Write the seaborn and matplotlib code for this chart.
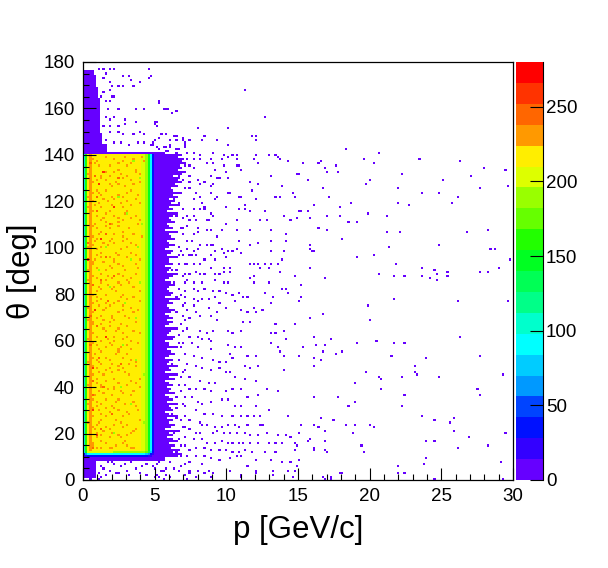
import numpy as np
import matplotlib
matplotlib.use("Agg")
import matplotlib.pyplot as plt
from matplotlib.colors import ListedColormap
from matplotlib.ticker import MultipleLocator
import seaborn as sns

plt.rcParams["font.family"] = ["Liberation Sans", "DejaVu Sans"]

# histogram binning: 200 x 200 bins
p_nbins, p_max = 200, 30.0
th_nbins, th_max = 200, 180.0

# 20 colour contours between 0 and 280 counts
z_max = 280
palette = ["#6600ff", "#3300ff", "#0011ff", "#0044ff", "#0099ff",
           "#00ccff", "#00ffff", "#00ffcc", "#00ff88", "#00ff55",
           "#00ff22", "#22ff00", "#66ff00", "#99ff00", "#ddff00",
           "#ffee00", "#ff9900", "#ff6600", "#ff3300", "#ff0000"]
cbar_ticks = [0, 50, 100, 150, 200, 250]
p_ticks = [0, 5, 10, 15, 20, 25, 30]
th_ticks = [0, 20, 40, 60, 80, 100, 120, 140, 160, 180]

# --- the filled acceptance box (p < 4.95, 10 < theta < 140) ---
# counts per p-bin across the box
box_col_counts = [95, 160, 223, 224, 223, 222, 222, 221, 220, 220, 219, 219,
                  218, 218, 217, 217, 216, 216, 215, 215, 214, 214, 214, 213,
                  213, 212, 212, 209, 205, 188, 145, 90, 35]
box_theta_lo, box_theta_hi = 10.0, 140.4
box_edge_theta = [10.0, 10.9, 11.8]
box_edge_scale = [0.17, 0.42, 0.9]

# orange speckles (p, theta)
orange_cells = [
    (0.6, 138), (2.2, 138), (3.5, 138), (1.1, 135), (1.8, 135), (3.0, 135),
    (0.4, 132), (2.6, 132), (4.0, 132), (0.9, 129), (1.5, 129), (3.3, 129),
    (0.5, 126), (2.0, 126), (2.9, 126), (1.3, 123), (2.4, 123), (3.8, 123),
    (0.7, 120), (1.7, 120), (3.1, 120), (0.4, 117), (1.2, 117), (2.7, 117),
    (0.9, 114), (2.1, 114), (3.6, 114), (0.5, 111), (1.6, 111), (2.5, 111),
    (1.0, 108), (1.9, 108), (3.2, 108), (0.6, 105), (2.8, 105), (4.1, 105),
    (1.4, 102), (2.2, 102), (3.4, 102), (0.5, 99), (0.9, 99), (2.6, 99),
    (1.2, 96), (1.8, 96), (3.0, 96), (0.7, 93), (2.4, 93), (3.7, 93),
    (0.4, 90), (1.5, 90), (2.9, 90), (1.0, 87), (2.0, 87), (3.3, 87),
    (0.6, 84), (1.7, 84), (2.6, 84), (0.9, 81), (2.3, 81), (3.9, 81),
    (0.5, 78), (1.3, 78), (3.0, 78), (1.1, 75), (1.9, 75), (2.7, 75),
    (0.7, 72), (2.5, 72), (3.5, 72), (0.4, 69), (1.4, 69), (2.2, 69),
    (1.0, 66), (1.8, 66), (3.1, 66), (0.6, 63), (2.7, 63), (4.0, 63),
    (1.2, 60), (2.1, 60), (3.4, 60), (0.5, 57), (1.6, 57), (2.6, 57),
    (0.8, 54), (2.3, 54), (3.0, 54), (0.4, 51), (1.1, 51), (3.7, 51),
    (0.9, 48), (1.9, 48), (2.8, 48), (0.6, 45), (1.4, 45), (3.2, 45),
    (1.0, 42), (2.5, 42), (3.6, 42), (0.5, 39), (1.7, 39), (2.2, 39),
    (0.8, 36), (2.0, 36), (3.3, 36), (0.4, 33), (1.3, 33), (2.9, 33),
    (1.1, 30), (2.4, 30), (3.8, 30), (0.6, 27), (1.6, 27), (2.7, 27),
    (0.9, 24), (2.1, 24), (3.1, 24), (0.5, 21), (1.4, 21), (3.5, 21),
    (1.0, 18), (1.9, 18), (2.6, 18), (0.7, 15), (2.3, 15), (3.0, 15),
    (0.9, 137), (2.8, 137), (4.2, 137), (0.5, 134), (2.4, 134), (3.6, 134),
    (1.3, 131), (1.9, 131), (3.0, 131), (0.7, 128), (2.3, 128), (3.9, 128),
    (1.0, 125), (1.6, 125), (3.4, 125), (0.4, 122), (2.0, 122), (2.8, 122),
    (1.1, 119), (2.6, 119), (4.0, 119), (0.6, 116), (1.8, 116), (3.1, 116),
    (1.4, 113), (2.4, 113), (3.4, 113), (0.8, 110), (2.0, 110), (3.8, 110),
    (0.5, 107), (1.3, 107), (2.7, 107), (1.0, 104), (2.0, 104), (3.0, 104),
    (0.6, 101), (1.7, 101), (3.7, 101), (1.3, 98), (2.3, 98), (3.3, 98),
    (0.8, 95), (2.1, 95), (4.0, 95), (0.5, 92), (1.8, 92), (2.8, 92),
    (1.2, 89), (2.5, 89), (3.6, 89), (0.4, 86), (1.5, 86), (3.0, 86),
    (1.1, 83), (2.1, 83), (3.5, 83), (0.6, 80), (1.6, 80), (2.8, 80),
    (1.0, 77), (2.4, 77), (3.9, 77), (0.4, 74), (1.5, 74), (3.3, 74),
    (1.2, 71), (2.0, 71), (2.9, 71), (0.7, 68), (1.8, 68), (3.7, 68),
    (0.5, 65), (1.4, 65), (2.5, 65), (1.0, 62), (2.2, 62), (3.0, 62),
    (0.7, 59), (1.9, 59), (3.8, 59), (1.1, 56), (2.5, 56), (3.4, 56),
    (0.6, 53), (1.5, 53), (2.8, 53), (1.3, 50), (2.0, 50), (3.2, 50),
    (0.5, 47), (1.6, 47), (2.4, 47), (0.9, 44), (2.2, 44), (3.9, 44),
    (0.4, 41), (1.3, 41), (3.0, 41), (1.1, 38), (2.6, 38), (3.5, 38),
    (0.6, 35), (1.5, 35), (2.5, 35), (1.0, 32), (2.0, 32), (3.6, 32),
    (0.5, 29), (1.8, 29), (3.0, 29), (1.2, 26), (2.3, 26), (4.0, 26),
    (0.7, 23), (1.6, 23), (2.8, 23), (1.0, 20), (2.0, 20), (3.3, 20),
    (0.5, 17), (1.3, 17), (2.9, 17), (1.2, 14), (1.8, 14), (3.5, 14),
    (1.5, 139), (2.9, 139), (4.1, 139), (0.8, 136), (2.4, 136), (3.3, 136),
    (1.6, 133), (2.2, 133), (3.7, 133), (0.5, 130), (1.2, 130), (2.7, 130),
    (1.8, 127), (2.5, 127), (3.5, 127), (0.7, 124), (1.1, 124), (3.0, 124),
    (1.4, 121), (2.2, 121), (3.7, 121), (0.8, 118), (2.0, 118), (3.3, 118),
    (0.5, 115), (1.6, 115), (2.9, 115), (1.2, 112), (2.7, 112), (4.0, 112),
    (0.6, 109), (1.5, 109), (2.4, 109), (1.1, 106), (2.1, 106), (3.5, 106),
    (0.8, 103), (1.9, 103), (2.7, 103), (0.4, 100), (1.3, 100), (3.1, 100),
    (1.0, 97), (2.5, 97), (3.6, 97), (0.6, 94), (1.4, 94), (2.2, 94),
    (1.0, 91), (2.0, 91), (3.8, 91), (0.7, 88), (1.7, 88), (2.7, 88),
    (1.3, 85), (2.4, 85), (3.2, 85), (0.5, 82), (1.2, 82), (2.0, 82),
    (0.9, 79), (2.6, 79), (3.5, 79), (0.6, 76), (1.6, 76), (2.2, 76),
    (1.4, 73), (2.8, 73), (3.8, 73), (0.9, 70), (2.0, 70), (3.2, 70),
    (0.6, 67), (1.3, 67), (2.6, 67), (1.5, 64), (2.3, 64), (3.5, 64),
    (0.4, 61), (1.7, 61), (2.8, 61), (1.0, 58), (2.0, 58), (3.1, 58),
    (0.5, 55), (1.3, 55), (2.4, 55), (1.0, 52), (1.8, 52), (3.4, 52),
    (0.7, 49), (2.4, 49), (3.7, 49), (1.1, 46), (2.0, 46), (2.9, 46),
    (0.6, 43), (1.6, 43), (3.3, 43), (1.2, 40), (2.2, 40), (3.9, 40),
    (0.5, 37), (1.4, 37), (2.8, 37), (1.0, 34), (2.3, 34), (3.5, 34),
    (0.7, 31), (1.5, 31), (2.2, 31), (1.3, 28), (2.0, 28), (3.2, 28),
    (0.4, 25), (1.1, 25), (2.6, 25), (0.8, 22), (1.9, 22), (3.7, 22),
    (1.2, 19), (2.4, 19), (3.0, 19), (0.6, 16), (1.5, 16), (2.7, 16),
    (1.0, 13.5), (2.0, 13.5), (3.3, 13.5)]
deep_orange_cells = [
    (0.5, 136), (0.9, 116), (1.5, 96), (0.6, 84), (0.5, 58), (0.6, 36),
    (1.3, 22), (2.5, 130), (1.0, 66), (1.8, 110), (0.7, 14), (2.2, 88),
    (1.4, 40), (0.9, 122), (1.7, 77), (0.4, 102), (1.1, 53), (2.6, 50),
    (0.8, 131), (1.6, 106), (0.5, 71), (2.0, 28), (1.2, 86), (0.7, 43)]
red_cells = [(1.1, 127), (0.8, 73), (0.7, 48), (1.2, 104), (0.4, 95),
             (1.5, 62), (0.6, 30), (2.1, 117), (0.9, 19), (1.4, 133)]
green_cells = [(3.9, 130), (2.5, 122), (4.1, 110), (3.3, 95), (1.9, 83),
               (3.6, 70), (2.8, 58), (4.2, 45), (3.4, 33), (2.2, 20),
               (4.0, 85), (3.0, 115), (1.5, 100), (3.7, 52), (2.6, 40),
               (4.3, 25), (3.5, 137), (1.1, 90), (2.9, 76), (3.8, 100)]

# --- low-count regions that are (almost) fully occupied: p0, p1, th0, th1 ---
solid_blocks = [
    (0.0, 5.7, 8.1, 9.9),
    (0.0, 1.0, 0.9, 8.1),
    (0.0, 5.8, 140.4, 141.5),
    (0.0, 1.7, 141.5, 145.0),
    (0.0, 1.4, 145.0, 150.0),
    (0.0, 1.3, 150.0, 155.0),
    (0.0, 1.2, 155.0, 160.0),
    (0.0, 1.25, 160.0, 165.0),
    (0.0, 1.1, 165.0, 170.0),
    (0.0, 1.0, 170.0, 175.0),
    (0.0, 0.8, 175.0, 176.6)]
# solid band right of the box: upper p edge for each theta bin from 10 deg
fringe_theta0 = 10.0
fringe_edge_p = [
    6.6, 6.9, 6.4, 6.8, 6.2, 6.5, 6.0, 6.7, 6.3, 5.9, 6.4, 6.1, 6.8, 5.8, 6.2,
    6.5, 6.0, 6.3, 5.9, 6.6, 6.1, 5.8, 6.4, 6.2, 6.0, 6.7, 5.9, 6.3, 6.1, 5.8,
    6.5, 6.0, 6.2, 5.9, 6.4, 6.1, 5.7, 6.3, 6.0, 6.6, 5.8, 6.2, 6.0, 6.5, 5.9,
    6.1, 6.3, 5.8, 6.0, 6.4, 6.2, 5.9, 6.7, 6.0, 6.1, 5.8, 6.3, 6.5, 5.9, 6.0,
    6.2, 6.6, 5.8, 6.1, 6.3, 5.9, 6.4, 6.0, 5.7, 6.2, 6.5, 6.1, 5.9, 6.3, 6.0,
    6.8, 5.8, 6.2, 6.4, 6.0, 5.9, 6.1, 6.5, 6.2, 5.8, 6.0, 6.3, 6.6, 5.9, 6.1,
    6.2, 5.8, 6.4, 6.0, 6.1, 6.7, 5.9, 6.2, 6.3, 5.8, 6.0, 6.5, 6.1, 5.9, 6.4,
    6.2, 6.0, 6.6, 5.8, 6.3, 6.1, 5.9, 6.5, 6.2, 6.0, 6.4, 6.7, 5.9, 6.3, 6.1,
    6.8, 6.2, 6.5, 6.0, 6.6, 6.3, 6.9, 6.4, 6.2, 6.7, 6.5, 7.0, 6.6, 6.8, 6.4,
    6.9, 7.2, 6.7, 7.0, 6.8, 7.3, 6.9, 7.1, 6.6, 7.0]

# --- single entries (p [GeV/c], theta [deg]) ---
hits_fringe = [
    (6.55, 138.6), (6.85, 136.2), (6.30, 133.9), (6.70, 131.1), (6.95, 128.8),
    (6.45, 126.4), (6.80, 124.0), (6.35, 121.3), (6.65, 118.9), (6.90, 116.1),
    (6.50, 113.7), (6.25, 111.2), (6.75, 108.8), (6.95, 106.1), (6.40, 103.5),
    (6.60, 100.6), (6.85, 98.3), (6.30, 95.8), (6.70, 93.2), (6.50, 90.4),
    (6.90, 87.9), (6.35, 85.1), (6.65, 82.7), (6.80, 80.0), (6.45, 77.4),
    (6.95, 74.9), (6.55, 72.3), (6.25, 69.6), (6.75, 67.2), (6.90, 64.5),
    (6.40, 61.8), (6.60, 59.3), (6.85, 56.9), (6.30, 54.2), (6.70, 51.5),
    (6.50, 48.9), (6.95, 46.4), (6.35, 43.7), (6.65, 41.0), (6.80, 38.5),
    (6.45, 35.9), (6.90, 33.3), (6.55, 30.6), (6.25, 28.1), (6.75, 25.4),
    (6.95, 22.8), (6.40, 20.2), (6.60, 17.6), (6.85, 15.0), (6.50, 12.4),
    (6.80, 10.6), (6.60, 134.8), (6.40, 119.8), (6.70, 97.1), (6.50, 79.1),
    (6.60, 62.6), (6.75, 44.6), (6.45, 26.5), (6.95, 112.5), (6.95, 70.5),
    (6.20, 90.0), (6.25, 50.0)]
hits_top_left = [
    (1.07, 177.0), (1.46, 177.0), (1.84, 176.6), (2.14, 177.0), (1.60, 175.1),
    (2.70, 174.4), (3.19, 174.4), (4.60, 176.6), (1.42, 173.0), (1.91, 171.5),
    (3.40, 172.2), (4.00, 171.2), (4.51, 173.0), (1.95, 169.4), (2.47, 169.4),
    (2.74, 169.8), (3.51, 169.4), (1.47, 167.2), (1.88, 167.9), (1.28, 165.1),
    (2.00, 165.1), (2.23, 165.1), (1.53, 162.9), (1.81, 163.2), (2.42, 160.0),
    (3.65, 160.0), (4.26, 159.8), (5.37, 162.9), (5.84, 160.0), (1.67, 160.0),
    (1.53, 156.4), (1.81, 155.0), (2.23, 156.4), (2.93, 155.7), (1.42, 152.1),
    (1.88, 152.9), (2.42, 152.9), (2.88, 153.6), (3.74, 154.3), (5.02, 154.3),
    (5.19, 152.9), (1.88, 150.0), (2.47, 150.0), (2.70, 148.5), (3.51, 149.3),
    (3.98, 150.0), (4.33, 148.5), (4.84, 145.4), (5.37, 147.1), (5.72, 148.5),
    (6.42, 147.8), (7.00, 146.4), (1.51, 146.4), (2.12, 145.0), (2.58, 145.4),
    (3.28, 144.3), (3.86, 145.0), (4.26, 145.0), (4.91, 144.3), (5.60, 143.5),
    (6.07, 144.0), (6.54, 142.8), (7.12, 144.3)]
hits_top_mid = [
    (4.74, 174.5), (11.37, 167.4), (5.37, 162.5), (5.65, 159.5), (5.86, 160.0),
    (6.28, 157.6), (6.56, 158.5), (12.63, 156.5), (5.09, 153.6), (5.23, 154.6),
    (5.16, 152.6), (7.95, 151.4), (10.05, 151.4), (5.51, 149.1), (6.56, 148.1),
    (8.51, 148.4), (11.72, 148.4), (12.00, 148.4), (5.09, 146.4), (5.37, 147.4),
    (6.00, 146.4), (6.49, 146.4), (6.91, 147.1), (7.12, 145.7), (7.47, 146.4),
    (8.37, 146.4), (9.42, 146.4), (12.14, 146.4), (10.19, 144.4), (4.74, 144.4),
    (5.23, 143.5), (5.72, 143.5), (6.00, 143.5), (7.05, 143.5), (5.37, 142.5),
    (5.86, 141.8), (6.70, 142.5), (4.81, 141.0), (5.02, 141.0), (5.51, 141.0),
    (5.79, 141.8), (6.49, 141.0), (7.33, 141.0), (7.67, 141.0), (8.23, 140.1),
    (9.00, 141.0), (9.77, 140.1), (10.12, 139.2), (10.40, 140.1), (10.67, 140.1),
    (12.14, 139.5), (12.91, 139.5), (13.47, 140.1), (13.60, 139.2)]
hits_mid_upper = [
    (7.33, 138.4), (7.67, 138.4), (8.23, 137.8), (8.86, 137.8), (9.63, 137.8),
    (10.19, 139.2), (10.67, 137.8), (11.93, 137.8), (12.21, 136.7), (13.74, 138.4),
    (14.37, 137.5), (8.65, 136.7), (9.00, 136.7), (9.84, 135.5), (10.67, 135.5),
    (10.81, 135.5), (9.21, 133.8), (9.98, 132.6), (10.95, 133.8), (7.05, 135.5),
    (7.47, 135.5), (7.74, 134.6), (7.12, 132.6), (7.40, 131.2), (8.02, 129.2),
    (8.86, 131.2), (9.42, 129.8), (9.56, 129.8), (10.19, 129.8), (13.19, 130.6),
    (14.93, 131.5), (7.47, 128.3), (8.23, 126.9), (8.51, 128.3), (8.93, 126.3),
    (9.14, 126.9), (11.58, 128.3), (12.21, 127.5), (13.81, 126.3), (7.12, 125.5),
    (7.47, 125.5), (7.81, 123.4), (8.16, 122.3), (8.93, 123.4), (9.42, 122.3),
    (10.05, 123.4), (10.33, 123.4), (10.81, 121.5), (11.09, 121.5), (11.72, 124.3),
    (13.47, 121.5), (13.74, 121.5), (14.58, 123.4), (14.72, 121.5), (7.74, 120.6),
    (8.37, 119.4), (8.51, 117.4), (9.28, 120.6), (9.98, 117.4), (11.37, 118.3),
    (11.37, 116.6), (12.14, 120.6), (12.63, 115.7), (7.74, 116.6), (8.16, 116.6),
    (8.44, 116.6), (8.86, 114.8), (9.00, 114.0), (7.67, 114.0), (7.26, 114.0),
    (10.88, 116.3), (11.58, 115.4), (7.40, 112.0), (7.81, 112.0), (8.58, 111.7),
    (8.79, 111.7), (9.91, 110.5), (10.67, 111.7), (12.35, 111.7), (12.77, 111.7),
    (13.95, 113.4), (15.00, 115.7), (14.51, 112.0), (6.91, 108.5), (7.33, 109.7),
    (8.09, 108.5), (8.58, 107.7), (8.86, 107.4), (9.63, 107.7), (10.67, 107.7),
    (11.58, 107.7), (13.19, 107.4), (6.98, 105.7), (7.67, 105.7), (8.02, 106.8),
    (9.42, 104.5), (10.81, 103.1), (11.58, 101.6), (12.21, 102.2), (13.05, 103.1),
    (14.23, 105.7), (14.16, 103.4), (7.26, 103.4), (7.60, 103.4), (8.16, 101.6),
    (8.58, 101.6), (8.93, 101.6), (9.14, 101.6), (7.33, 99.6), (7.74, 98.8),
    (8.02, 99.6), (9.21, 98.8), (9.63, 99.6), (9.84, 97.6), (10.12, 98.5),
    (10.40, 98.5), (10.67, 99.6), (11.09, 97.6), (13.19, 98.8), (14.09, 98.5),
    (6.91, 96.5), (7.40, 96.5), (7.60, 96.5), (7.88, 96.5), (8.51, 94.8),
    (8.86, 96.5), (9.28, 94.8), (9.98, 95.6), (11.58, 93.6), (11.86, 92.7),
    (12.21, 93.6), (12.70, 93.6), (13.19, 92.7), (13.60, 92.7), (13.88, 94.8),
    (7.05, 93.6), (7.33, 93.6), (7.67, 92.7), (8.16, 92.7), (8.93, 91.3),
    (9.77, 91.3), (10.26, 91.3), (12.35, 91.3), (12.91, 91.3)]
hits_mid_lower = [
    (7.12, 89.0), (7.47, 89.0), (7.81, 89.7), (8.16, 88.3), (8.51, 89.0),
    (9.21, 89.0), (9.56, 88.3), (9.84, 89.7), (10.26, 89.7), (11.58, 86.8),
    (11.86, 87.6), (13.67, 89.7), (14.72, 87.6), (7.05, 85.4), (7.33, 86.1),
    (7.74, 84.7), (8.30, 85.4), (9.28, 86.1), (9.77, 84.7), (10.12, 84.7),
    (11.93, 84.7), (12.91, 84.7), (13.88, 82.5), (14.16, 82.5), (14.30, 80.4),
    (7.12, 81.8), (7.67, 82.5), (8.02, 81.8), (8.51, 82.5), (9.00, 81.8),
    (9.56, 81.8), (9.91, 80.4), (10.40, 79.7), (10.81, 80.4), (11.23, 79.0),
    (11.51, 79.0), (12.63, 80.4), (13.33, 79.0), (7.12, 79.0), (7.67, 78.2),
    (8.30, 77.5), (8.72, 78.2), (9.28, 79.0), (15.00, 76.8), (7.12, 76.1),
    (7.67, 75.4), (8.02, 76.8), (8.72, 74.6), (9.49, 76.1), (9.98, 74.6),
    (10.54, 76.8), (10.95, 73.2), (11.51, 72.5), (11.93, 74.6), (12.00, 72.5),
    (12.56, 73.2), (13.05, 76.1), (7.26, 73.2), (7.81, 72.5), (8.23, 70.3),
    (8.86, 70.3), (9.35, 72.5), (7.12, 68.9), (7.47, 69.6), (9.42, 68.9),
    (11.23, 67.5), (11.58, 67.5), (13.47, 66.8), (14.72, 66.8), (7.26, 65.3),
    (8.23, 63.9), (8.65, 63.2), (9.00, 63.9), (10.05, 63.9), (10.40, 63.2),
    (10.95, 63.9), (13.05, 63.2), (13.47, 63.2), (14.02, 63.9), (14.16, 60.3),
    (7.47, 61.7), (8.02, 61.7), (8.37, 61.0), (8.72, 61.0), (6.98, 58.9),
    (7.60, 58.9), (8.09, 57.4), (8.93, 59.6), (8.93, 56.0), (10.05, 58.1),
    (10.33, 54.6), (10.54, 57.4), (10.95, 56.7), (11.51, 53.8), (12.00, 53.1),
    (13.19, 58.9), (13.54, 57.4), (13.74, 55.3), (14.02, 53.8), (7.12, 54.6),
    (7.67, 53.8), (8.37, 52.4), (9.00, 51.7), (9.49, 51.0), (9.98, 51.0),
    (10.47, 52.4), (11.30, 48.8), (11.58, 48.1), (12.21, 48.8), (13.95, 47.4),
    (7.33, 50.2), (7.88, 48.8), (8.37, 48.1), (8.86, 47.4), (9.49, 48.1),
    (7.12, 47.4), (9.98, 45.9), (10.33, 45.9), (10.54, 44.5), (11.30, 43.8),
    (7.47, 44.5), (8.16, 43.1), (8.72, 41.6), (9.21, 41.6), (12.14, 43.1),
    (12.77, 39.5), (7.12, 40.9), (7.47, 38.8), (7.88, 38.8), (8.51, 39.5),
    (8.93, 38.0), (9.91, 38.0), (10.40, 38.8), (10.95, 38.8), (11.51, 35.9),
    (12.28, 36.6), (13.60, 38.0), (7.12, 35.9), (7.60, 35.2), (7.95, 33.7),
    (8.30, 33.0), (8.93, 33.7), (9.63, 34.5), (10.19, 34.5), (10.54, 32.3),
    (10.95, 31.6), (12.00, 31.6), (12.98, 30.2), (7.12, 31.6), (7.88, 30.2),
    (8.51, 28.7), (9.07, 28.7), (9.70, 27.3), (10.40, 27.3), (11.09, 27.3),
    (11.44, 27.3), (11.93, 27.3), (12.35, 27.3), (14.30, 27.3), (7.12, 27.3),
    (7.40, 25.9), (8.16, 25.1), (8.37, 23.7), (8.65, 23.7), (9.28, 23.0),
    (9.63, 23.0), (10.05, 23.7), (10.60, 23.7), (10.81, 23.0), (11.51, 23.7),
    (12.35, 23.7), (12.49, 23.7), (7.12, 23.0), (7.47, 21.6), (7.88, 20.1),
    (8.16, 20.1), (9.00, 20.1), (9.42, 20.8), (9.84, 20.1), (10.26, 20.1),
    (10.74, 20.1), (11.30, 20.1), (11.65, 19.4), (12.28, 19.4), (12.77, 20.1),
    (13.60, 19.4), (14.23, 19.4), (14.44, 18.7), (7.12, 18.7), (7.67, 17.2),
    (8.37, 17.2), (8.65, 15.8), (9.21, 15.8), (9.63, 16.5), (10.12, 15.8),
    (10.47, 15.8), (10.88, 15.8), (11.16, 15.8), (11.65, 15.8), (12.21, 15.8),
    (12.91, 15.8), (13.47, 15.8), (13.81, 15.8), (14.72, 15.8), (7.12, 14.4),
    (7.47, 12.9), (7.88, 13.7), (8.51, 13.7), (8.93, 12.9), (9.49, 12.9),
    (9.98, 12.9), (10.40, 12.2), (10.88, 12.2), (11.30, 12.9), (11.79, 12.2),
    (12.63, 12.2), (13.40, 12.2), (14.72, 12.9), (7.33, 10.1), (7.88, 10.1),
    (8.44, 10.1), (8.86, 9.4), (9.56, 8.6), (10.26, 9.4), (10.67, 10.1),
    (11.02, 10.1), (12.00, 8.6), (13.19, 8.6), (13.88, 7.2), (14.44, 7.2),
    (14.93, 5.8), (4.95, 5.0), (7.05, 6.5), (7.47, 7.2), (8.30, 6.5),
    (8.79, 4.3), (11.51, 5.8), (14.37, 3.6), (14.79, 4.3), (7.40, 2.9),
    (8.02, 3.6), (9.07, 2.9), (10.95, 2.2), (12.14, 3.6), (13.33, 2.2),
    (5.65, 0.7), (7.33, 0.7)]
hits_bottom = [
    (1.65, 7.2), (2.00, 7.9), (2.58, 5.5), (2.93, 6.5), (3.40, 7.2), (3.74, 4.6),
    (4.09, 5.5), (4.44, 6.5), (4.91, 5.5), (5.37, 7.2), (5.84, 5.0), (1.88, 3.6),
    (2.35, 2.9), (3.28, 2.2), (3.98, 3.2), (5.14, 2.2), (6.07, 1.4), (1.30, 1.4),
    (6.77, 5.7), (7.12, 2.2), (1.19, 3.2), (1.53, 1.8), (2.46, 2.7), (3.05, 4.1),
    (4.44, 1.8), (5.02, 0.9), (5.60, 3.6), (7.46, 4.1), (7.81, 1.4), (8.51, 3.2),
    (8.86, 0.9), (10.26, 3.6), (10.95, 1.4), (12.12, 2.7), (13.28, 3.6),
    (14.67, 1.4), (16.77, 0.9), (17.35, 0.9), (17.93, 3.2), (5.20, 6.5),
    (5.50, 4.3), (6.00, 7.2), (6.30, 5.0), (5.80, 2.2), (6.60, 3.6), (5.30, 1.4),
    (1.20, 6.0), (1.40, 5.0), (1.10, 0.5), (0.50, 0.4), (2.20, 6.3)]
hits_far_upper = [
    (18.30, 142.4), (20.58, 140.4), (19.53, 138.5), (23.44, 138.5), (15.44, 136.6),
    (16.35, 136.6), (16.53, 137.5), (20.26, 136.6), (26.28, 137.5), (17.58, 135.5),
    (16.81, 134.5), (27.91, 134.5), (29.44, 133.6), (17.09, 132.5), (17.72, 132.5),
    (15.00, 131.5), (22.21, 131.5), (15.63, 129.5), (19.95, 129.5), (25.07, 129.5),
    (27.02, 130.5), (19.67, 127.5), (29.56, 126.5), (16.67, 125.5), (21.91, 125.5),
    (27.60, 125.5), (23.58, 123.4), (24.77, 123.4), (17.21, 121.6), (26.12, 121.6),
    (18.63, 119.4), (21.98, 119.4), (16.05, 118.6), (22.67, 118.6), (25.65, 119.4),
    (17.98, 117.6), (15.21, 115.5), (15.63, 115.5), (19.81, 115.0), (17.09, 113.5),
    (17.86, 113.5), (21.16, 113.5), (14.86, 112.5), (15.77, 112.5), (18.49, 111.5),
    (19.19, 111.5), (16.35, 108.6), (17.09, 107.5), (28.23, 107.5), (21.16, 106.5),
    (22.05, 106.5), (26.84, 106.5), (18.14, 103.5), (15.84, 101.5), (24.77, 101.5),
    (21.35, 100.5), (15.77, 99.5), (15.91, 98.6), (16.19, 98.6), (28.40, 99.5),
    (28.67, 99.5), (20.26, 96.6), (19.19, 95.6), (29.72, 94.6), (21.77, 93.2),
    (15.77, 91.6), (23.58, 91.6), (29.00, 91.6), (24.46, 90.7)]
hits_far_lower = [
    (20.58, 88.6), (21.74, 87.6), (22.39, 87.6), (23.58, 87.6), (24.16, 86.6),
    (24.60, 88.6), (24.60, 85.5), (25.39, 89.6), (25.39, 87.6), (27.74, 89.6),
    (28.23, 89.6), (16.93, 86.6), (15.26, 83.7), (15.26, 78.7), (15.07, 76.6),
    (19.81, 75.6), (21.63, 77.7), (26.12, 76.6), (29.56, 76.6), (16.67, 71.6),
    (15.88, 69.6), (20.09, 68.6), (26.28, 61.7), (16.19, 61.7), (17.39, 60.6),
    (16.30, 57.7), (15.44, 56.7), (16.93, 57.7), (16.67, 55.7), (18.00, 55.7),
    (17.58, 54.7), (19.16, 58.7), (20.44, 59.6), (21.74, 58.7), (22.39, 58.7),
    (15.14, 53.7), (16.05, 52.7), (16.51, 51.7), (21.49, 53.7), (23.98, 52.7),
    (27.60, 53.7), (16.05, 48.7), (19.67, 46.6), (23.12, 48.7), (23.12, 46.6),
    (23.28, 45.6), (20.58, 44.6), (20.72, 43.6), (22.21, 44.6), (24.77, 44.6),
    (29.30, 45.6), (18.91, 41.6), (20.84, 38.8), (27.46, 38.8), (27.60, 36.7),
    (16.19, 35.7), (17.84, 35.7), (18.91, 33.7), (22.37, 36.7), (18.46, 31.7),
    (22.21, 31.7), (23.58, 27.7), (16.51, 26.8), (17.46, 25.7), (24.46, 25.7),
    (25.81, 26.8), (25.53, 24.5), (15.26, 23.7), (16.05, 23.7), (16.35, 22.7),
    (18.30, 23.7), (18.91, 23.7), (19.95, 23.7), (20.26, 22.7), (25.81, 21.5),
    (15.12, 19.8), (16.93, 20.7), (18.77, 19.8), (26.86, 18.8), (29.44, 19.8),
    (15.77, 17.8), (15.63, 16.8), (16.93, 16.8), (23.98, 16.8), (24.46, 16.8),
    (14.86, 14.8), (19.37, 14.8), (28.23, 14.8), (16.19, 13.8), (16.05, 12.8),
    (16.81, 12.8), (17.09, 11.8), (19.53, 11.8), (26.12, 13.8), (23.98, 9.8),
    (15.00, 8.8), (23.70, 6.7), (29.16, 7.8), (14.86, 5.8), (21.91, 5.8),
    (21.91, 2.7), (22.39, 2.7), (18.00, 2.7), (16.81, 0.7), (17.39, 0.7),
    (24.46, 0.7), (29.30, 0.7)]

dp = p_max / p_nbins
dth = th_max / th_nbins


def pbin(p):
    return min(int(p / dp), p_nbins - 1)


def tbin(t):
    return min(int(t / dth), th_nbins - 1)


counts = np.zeros((th_nbins, p_nbins))

for p0, p1, t0, t1 in solid_blocks:
    counts[tbin(t0):tbin(t1), pbin(p0):pbin(p1)] = 6

n_box = len(box_col_counts)
r0 = tbin(fringe_theta0)
for i, edge in enumerate(fringe_edge_p):
    counts[r0 + i, n_box:pbin(edge)] = 6

box_rows = slice(tbin(box_theta_lo), tbin(box_theta_hi))
counts[box_rows, :n_box] = np.array(box_col_counts, dtype=float)
for t, s in zip(box_edge_theta, box_edge_scale):
    counts[tbin(t), :n_box] = np.array(box_col_counts) * s

for cells, val in [(orange_cells, 231), (deep_orange_cells, 245),
                   (red_cells, 262), (green_cells, 186)]:
    for p, t in cells:
        counts[tbin(t), pbin(p)] = val

for hits in [hits_fringe, hits_top_left, hits_top_mid, hits_mid_upper,
             hits_mid_lower, hits_bottom, hits_far_upper, hits_far_lower]:
    for p, t in hits:
        r, c = tbin(t), pbin(p)
        if counts[r, c] == 0:
            counts[r, c] = 3

# ---------------------------------------------------------------
fig = plt.figure(figsize=(6.08, 5.68), dpi=100)
ax = fig.add_axes([83 / 608, 88 / 568, 430 / 608, 418 / 568])
cax = fig.add_axes([516 / 608, 88 / 568, 27 / 608, 418 / 568])

sns.heatmap(counts, mask=(counts == 0), cmap=ListedColormap(palette),
            vmin=0, vmax=z_max, ax=ax, cbar_ax=cax,
            xticklabels=False, yticklabels=False,
            cbar_kws={"ticks": cbar_ticks}, rasterized=True)
ax.invert_yaxis()

for s in ax.spines.values():
    s.set_visible(True)
    s.set_color("black")
    s.set_linewidth(0.9)

ax.set_xticks([t / dp for t in p_ticks])
ax.set_xticklabels([str(t) for t in p_ticks])
ax.set_yticks([t / dth for t in th_ticks])
ax.set_yticklabels([str(t) for t in th_ticks])
ax.xaxis.set_minor_locator(MultipleLocator(1 / dp))
ax.yaxis.set_minor_locator(MultipleLocator(5 / dth))
ax.tick_params(which="both", direction="in", top=False, right=False,
               bottom=True, left=True, width=0.8, color="black",
               labelsize=13.5, labelbottom=True, labelleft=True)
ax.tick_params(which="major", length=9)
ax.tick_params(which="minor", length=4.5)
ax.tick_params(axis="x", which="major", pad=6)
ax.tick_params(axis="y", which="major", pad=6)

ax.set_xlabel("p [GeV/c]", fontsize=22.5)
ax.xaxis.set_label_coords(0.5, -0.084)
ax.set_ylabel("θ [deg]", fontsize=22.5)
ax.yaxis.set_label_coords(-0.108, 0.5)

cbar = ax.collections[0].colorbar
cbar.outline.set_visible(False)
cax.tick_params(direction="in", length=9.5, width=0.8, color="black",
                labelsize=13.5, pad=2, right=True, left=False)
cax.axvline(1.0, color="black", lw=0.8, clip_on=False)

fig.savefig("out.png", dpi=100)
